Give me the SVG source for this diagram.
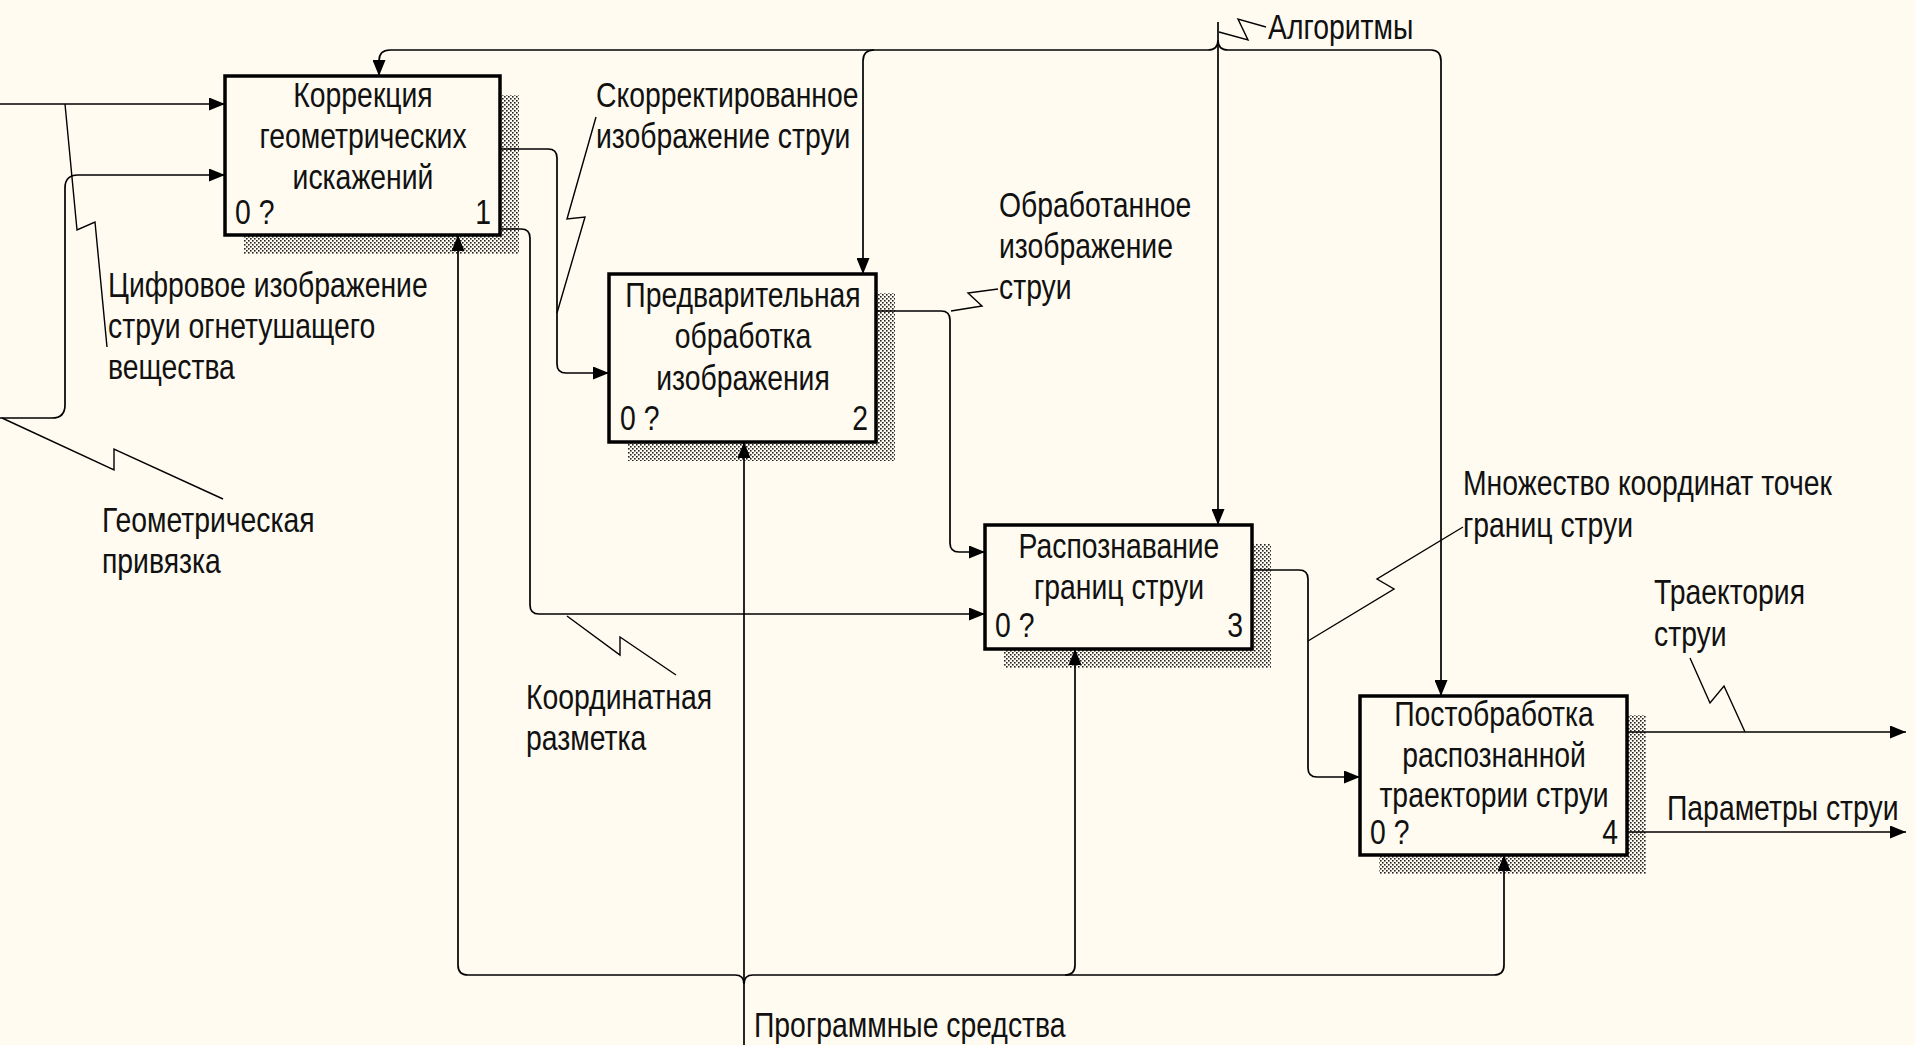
<svg xmlns="http://www.w3.org/2000/svg" width="1915" height="1045" viewBox="0 0 1915 1045">
<style>
.t{font-family:"Liberation Sans",Arial,sans-serif;font-size:35px;fill:#111}
.c{text-anchor:middle}
.e{text-anchor:end}
.box{fill:#fffbf0;stroke:#000;stroke-width:3.5}
.sh{fill:url(#hatch)}
.ln{fill:none;stroke:#000;stroke-width:1.7}
.ar{marker-end:url(#arr)}
.ld{fill:none;stroke:#000;stroke-width:1.4}
</style>
<defs>
<pattern id="hatch" patternUnits="userSpaceOnUse" width="4" height="4">
<rect width="4" height="4" fill="#fffbf0"/>
<rect x="0" y="0" width="1.6" height="1.6" fill="#222"/>
<rect x="2" y="2" width="1.6" height="1.6" fill="#222"/>
</pattern>
<marker id="arr" markerUnits="userSpaceOnUse" markerWidth="17" markerHeight="13" refX="16" refY="6.5" orient="auto">
<path d="M0,0 L16,6.5 L0,13 z" fill="#000"/>
</marker>
</defs>
<rect width="1915" height="1045" fill="#fffbf0"/>

<g id="node1">
<rect class="sh" x="244" y="95" width="275" height="159"/>
<rect class="box" x="225" y="76" width="275" height="159"/>
<text class="t c" transform="translate(363,107) scale(0.81,1)">Коррекция</text>
<text class="t c" transform="translate(363,148) scale(0.81,1)">геометрических</text>
<text class="t c" transform="translate(363,189) scale(0.81,1)">искажений</text>
<text class="t" transform="translate(235,224) scale(0.81,1)">0 ?</text>
<text class="t e" transform="translate(491,224) scale(0.81,1)">1</text>
</g>

<g id="node2">
<rect class="sh" x="628" y="293" width="267" height="168"/>
<rect class="box" x="609" y="274" width="267" height="168"/>
<text class="t c" transform="translate(743,307) scale(0.81,1)">Предварительная</text>
<text class="t c" transform="translate(743,348) scale(0.81,1)">обработка</text>
<text class="t c" transform="translate(743,390) scale(0.81,1)">изображения</text>
<text class="t" transform="translate(620,430) scale(0.81,1)">0 ?</text>
<text class="t e" transform="translate(868,430) scale(0.81,1)">2</text>
</g>

<g id="node3">
<rect class="sh" x="1004" y="544" width="267" height="124"/>
<rect class="box" x="985" y="525" width="267" height="124"/>
<text class="t c" transform="translate(1119,558) scale(0.81,1)">Распознавание</text>
<text class="t c" transform="translate(1119,599) scale(0.81,1)">границ струи</text>
<text class="t" transform="translate(995,637) scale(0.81,1)">0 ?</text>
<text class="t e" transform="translate(1243,637) scale(0.81,1)">3</text>
</g>

<g id="node4">
<rect class="sh" x="1379" y="715" width="267" height="159"/>
<rect class="box" x="1360" y="696" width="267" height="159"/>
<text class="t c" transform="translate(1494,726) scale(0.81,1)">Постобработка</text>
<text class="t c" transform="translate(1494,767) scale(0.81,1)">распознанной</text>
<text class="t c" transform="translate(1494,807) scale(0.81,1)">траектории струи</text>
<text class="t" transform="translate(1370,844) scale(0.81,1)">0 ?</text>
<text class="t e" transform="translate(1618,844) scale(0.81,1)">4</text>
</g>

<g id="connectors">
<path class="ln ar" d="M0,104 H225"/>
<path class="ln ar" d="M0,418 H52 Q65,418 65,405 V188 Q65,175 78,175 H225"/>
<path class="ld" d="M65,104 L77,230 L95,222 L107,347"/>
<path class="ld" d="M2,418 L114,470 L114,449 L223,499"/>
<path class="ln ar" d="M500,149 H548 Q557,149 557,158 V364 Q557,373 566,373 H609"/>
<path class="ld" d="M557,313 L585,217 L567,219 L596,117"/>
<path class="ln ar" d="M500,229 H521 Q530,229 530,238 V605 Q530,614 539,614 H985"/>
<path class="ld" d="M567,616 L620,655 L620,637 L676,675"/>
<path class="ln ar" d="M876,311 H941 Q950,311 950,320 V543 Q950,552 959,552 H985"/>
<path class="ld" d="M951,311 L982,306 L968,293 L998,289"/>
<path class="ln ar" d="M1252,570 H1299 Q1308,570 1308,579 V768 Q1308,777 1317,777 H1360"/>
<path class="ld" d="M1308,641 L1394,589 L1377,579 L1463,527"/>
<path class="ln ar" d="M1627,732 H1906"/>
<path class="ln ar" d="M1627,832 H1906"/>
<path class="ld" d="M1745,732 L1724,686 L1710,703 L1690,658"/>
<path class="ln ar" d="M1218,22 V525"/>
<path class="ln ar" d="M1218,40 Q1218,50 1208,50 H390 Q379,50 379,61 V76"/>
<path class="ln ar" d="M874,50 Q863,50 863,61 V274"/>
<path class="ln ar" d="M1218,40 Q1218,50 1228,50 H1431 Q1441,50 1441,61 V696"/>
<path class="ld" d="M1219,32 L1248,40 L1238,19 L1266,27"/>
<path class="ln ar" d="M744,1045 V442"/>
<path class="ln ar" d="M744,984 Q744,975 735,975 H468 Q458,975 458,965 V235"/>
<path class="ln ar" d="M744,984 Q744,975 753,975 H1065 Q1075,975 1075,965 V649"/>
<path class="ln ar" d="M1065,975 H1494 Q1504,975 1504,965 V855"/>
</g>

<g id="labels">
<text class="t" transform="translate(108,297) scale(0.81,1)">Цифровое изображение</text>
<text class="t" transform="translate(108,338) scale(0.81,1)">струи огнетушащего</text>
<text class="t" transform="translate(108,379) scale(0.81,1)">вещества</text>
<text class="t" transform="translate(102,532) scale(0.81,1)">Геометрическая</text>
<text class="t" transform="translate(102,573) scale(0.81,1)">привязка</text>
<text class="t" transform="translate(596,107) scale(0.81,1)">Скорректированное</text>
<text class="t" transform="translate(596,148) scale(0.81,1)">изображение струи</text>
<text class="t" transform="translate(999,217) scale(0.81,1)">Обработанное</text>
<text class="t" transform="translate(999,258) scale(0.81,1)">изображение</text>
<text class="t" transform="translate(999,299) scale(0.81,1)">струи</text>
<text class="t" transform="translate(526,709) scale(0.81,1)">Координатная</text>
<text class="t" transform="translate(526,750) scale(0.81,1)">разметка</text>
<text class="t" transform="translate(1268,39) scale(0.81,1)">Алгоритмы</text>
<text class="t" transform="translate(1463,495) scale(0.81,1)">Множество координат точек</text>
<text class="t" transform="translate(1463,537) scale(0.81,1)">границ струи</text>
<text class="t" transform="translate(1654,604) scale(0.81,1)">Траектория</text>
<text class="t" transform="translate(1654,646) scale(0.81,1)">струи</text>
<text class="t" transform="translate(1667,820) scale(0.81,1)">Параметры струи</text>
<text class="t" transform="translate(754,1037) scale(0.81,1)">Программные средства</text>
</g>
</svg>
